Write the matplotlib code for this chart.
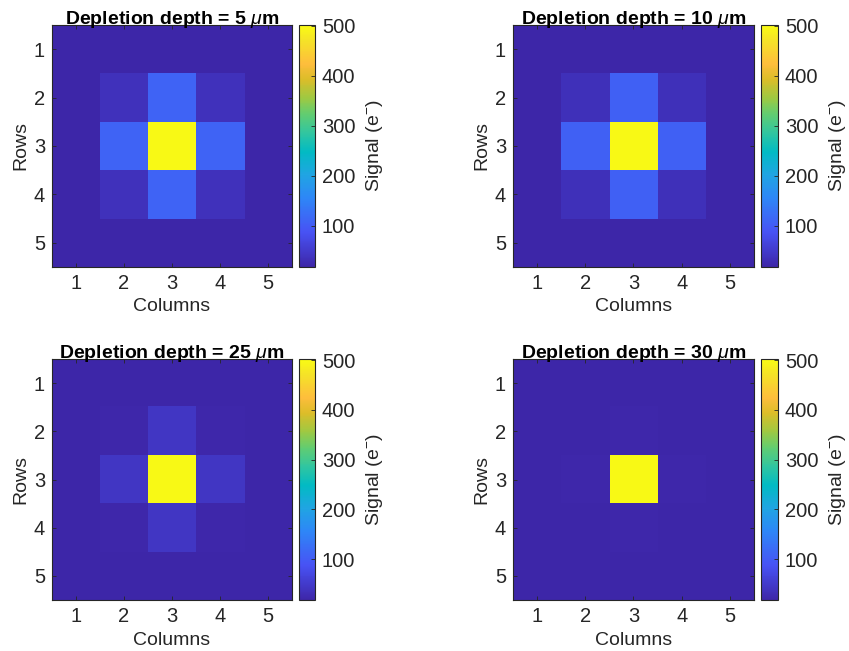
import numpy as np
import matplotlib
matplotlib.use('Agg')
import matplotlib.pyplot as plt
from matplotlib.colors import LinearSegmentedColormap

plt.rcParams['font.family'] = ['Liberation Sans', 'DejaVu Sans']
plt.rcParams['mathtext.fontset'] = 'custom'
plt.rcParams['mathtext.rm'] = 'Liberation Sans'
plt.rcParams['mathtext.it'] = 'Liberation Sans:italic'
plt.rcParams['mathtext.bf'] = 'Liberation Sans:bold'

# depletion depths (um) for each panel
depths = [5, 10, 25, 30]

# signal maps (e-), 5x5 pixels, rows top to bottom
sig_5 = [[18, 18, 18, 18, 18],
         [18, 36, 110, 36, 18],
         [18, 110, 500, 110, 18],
         [18, 36, 110, 36, 18],
         [18, 18, 18, 18, 18]]
sig_10 = [[18, 18, 18, 18, 18],
          [18, 34, 106, 34, 18],
          [18, 106, 500, 106, 18],
          [18, 34, 106, 34, 18],
          [18, 18, 18, 18, 18]]
sig_25 = [[18, 18, 18, 18, 18],
          [18, 20, 44, 20, 18],
          [18, 44, 500, 44, 18],
          [18, 20, 44, 20, 18],
          [18, 18, 18, 18, 18]]
sig_30 = [[18, 18, 18, 18, 18],
          [18, 19, 21, 19, 18],
          [18, 21, 500, 21, 18],
          [18, 19, 21, 19, 18],
          [18, 18, 18, 18, 18]]
maps = [sig_5, sig_10, sig_25, sig_30]

cbar_ticks = [100, 200, 300, 400, 500]
vmin, vmax = 18, 502

# approx. MATLAB parula
parula_pts = [(0.2422, 0.1504, 0.6603), (0.2810, 0.3228, 0.9579),
              (0.1786, 0.5289, 0.9682), (0.1248, 0.6459, 0.8883),
              (0.0067, 0.7312, 0.7660), (0.1938, 0.7758, 0.6251),
              (0.3909, 0.8029, 0.4354), (0.6174, 0.7876, 0.2612),
              (0.8634, 0.7406, 0.1596), (0.9956, 0.7434, 0.2371),
              (0.9610, 0.8890, 0.1537), (0.9769, 0.9839, 0.0805)]
pos = [0, 9/63, 18/63, 24/63, 30/63, 35/63, 40/63, 44/63, 49/63, 53/63, 59/63, 1]
parula = LinearSegmentedColormap.from_list('parula', list(zip(pos, parula_pts)), N=256)

txt = (0.15, 0.15, 0.15)
fs = 14.5
fig = plt.figure(figsize=(8.49, 6.51), dpi=100)

ax_pos = [[0.0612, 0.5899, 0.2827, 0.3717], [0.6042, 0.5899, 0.2839, 0.3717],
          [0.0612, 0.0783, 0.2827, 0.3702], [0.6042, 0.0783, 0.2839, 0.3702]]
cb_pos = [[0.3522, 0.5899, 0.0188, 0.3717], [0.8963, 0.5899, 0.0200, 0.3717],
          [0.3522, 0.0783, 0.0188, 0.3702], [0.8963, 0.0783, 0.0200, 0.3702]]

for k in range(4):
    ax = fig.add_axes(ax_pos[k])
    im = ax.imshow(np.array(maps[k]), cmap=parula, vmin=vmin, vmax=vmax,
                   extent=[0.5, 5.5, 5.5, 0.5], aspect='auto', interpolation='nearest')
    ax.set_xticks([1, 2, 3, 4, 5])
    ax.set_yticks([1, 2, 3, 4, 5])
    ax.tick_params(direction='in', length=3, width=0.6, colors=txt, labelsize=fs,
                   top=True, right=True, pad=5)
    for s in ax.spines.values():
        s.set_color(txt)
        s.set_linewidth(0.8)
    ax.set_xlabel('Columns', fontsize=14, color=txt, labelpad=4)
    ax.set_ylabel('Rows', fontsize=14, color=txt, labelpad=3)
    ax.set_title('Depletion depth = %d $\\mu$m' % depths[k], fontsize=14,
                 fontweight='bold', pad=1)

    cax = fig.add_axes(cb_pos[k])
    cb = fig.colorbar(im, cax=cax, ticks=cbar_ticks)
    cb.ax.tick_params(direction='in', length=3, width=0.6, colors=txt, labelsize=fs, pad=5)
    cb.outline.set_edgecolor(txt)
    cb.outline.set_linewidth(0.8)
    cb.set_label('Signal (e$^{-}$)', fontsize=14, color=txt, labelpad=6)

fig.savefig('out.png', dpi=100)
